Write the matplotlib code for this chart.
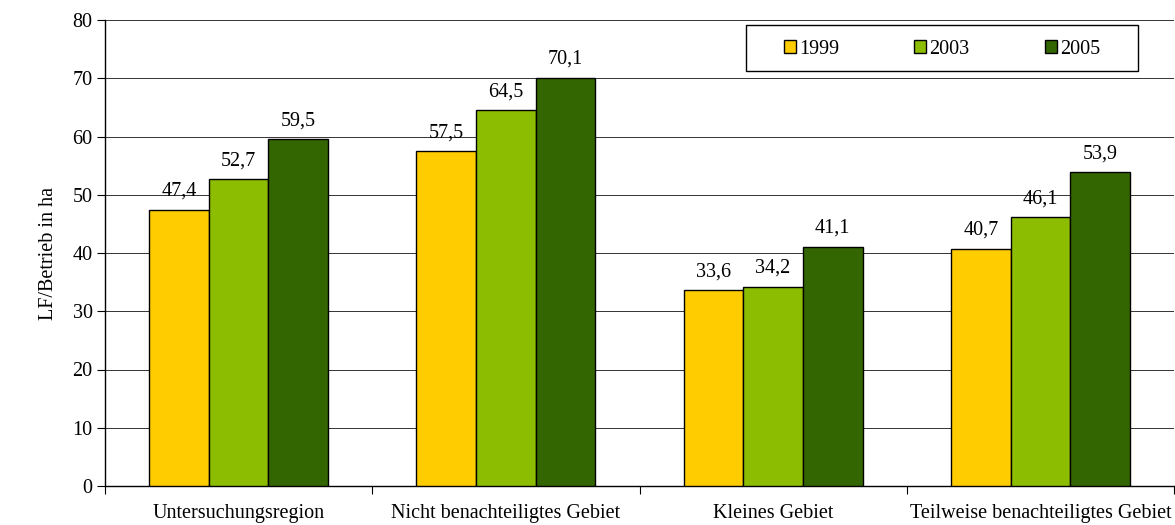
import numpy as np
import matplotlib
matplotlib.use("Agg")
import matplotlib.pyplot as plt
from matplotlib.patches import Rectangle

plt.rcParams['font.family'] = ['Liberation Serif', 'DejaVu Serif']

categories = ["Untersuchungsregion", "Nicht benachteiligtes Gebiet",
              "Kleines Gebiet", "Teilweise benachteiligtes Gebiet"]
years = ["1999", "2003", "2005"]
v1999 = [47.4, 57.5, 33.6, 40.7]
v2003 = [52.7, 64.5, 34.2, 46.1]
v2005 = [59.5, 70.1, 41.1, 53.9]
colors = ["#ffcc00", "#8cbd00", "#336600"]
fs = 14.5

fig = plt.figure(figsize=(11.75, 5.25), dpi=100)
ax = fig.add_axes([105 / 1175, 39 / 525, 1069 / 1175, 466 / 525])

x = np.arange(len(categories))
w = 0.223
for i, (vals, col, yr) in enumerate(zip([v1999, v2003, v2005], colors, years)):
    pos = x + (i - 1) * w
    ax.bar(pos, vals, w, color=col, edgecolor="black", linewidth=1.0, label=yr, zorder=3)
    for p, v in zip(pos, vals):
        ax.annotate(("%.1f" % v).replace(".", ","), (p, v), xytext=(0, 10),
                    textcoords="offset points", ha="center", va="baseline", fontsize=fs)

ax.set_xlim(-0.5, len(categories) - 0.5)
ax.set_ylim(0, 80)
ax.set_yticks(range(0, 81, 10))
ax.yaxis.grid(True, color="#333333", linewidth=0.7, zorder=0)
ax.set_axisbelow(True)

ax.set_xticks(np.arange(-0.5, len(categories), 1.0))
ax.set_xticklabels([])
ax.set_xticks(x, minor=True)
ax.set_xticklabels(categories, minor=True)
ax.tick_params(axis="x", which="major", length=6, width=0.8, direction="out")
ax.tick_params(axis="x", which="minor", length=0, pad=13, labelsize=fs)
ax.tick_params(axis="y", length=6, width=0.8, direction="out", labelsize=fs, pad=3)

for s in ["top", "right"]:
    ax.spines[s].set_visible(False)
ax.spines["left"].set_linewidth(1.0)
ax.spines["bottom"].set_linewidth(1.0)

ax.set_ylabel("LF/Betrieb in ha", fontsize=fs, labelpad=10)

# legend box drawn separately so the padding matches
box = Rectangle((746 / 1175, 1 - 71 / 525), 392 / 1175, 46 / 525,
                transform=fig.transFigure, facecolor="white",
                edgecolor="black", linewidth=1.0, zorder=5, clip_on=False)
ax.add_patch(box)
leg = ax.legend(loc="center", bbox_to_anchor=(942 / 1175, 1 - 49 / 525),
                bbox_transform=fig.transFigure, ncol=3, fontsize=fs,
                frameon=False, handlelength=0.6, handleheight=0.6,
                handletextpad=0.15, columnspacing=3.75, borderpad=0, borderaxespad=0)
leg.set_zorder(6)
for h in leg.legend_handles:
    h.set_linewidth(1.0)

fig.savefig("out.png", dpi=100)
